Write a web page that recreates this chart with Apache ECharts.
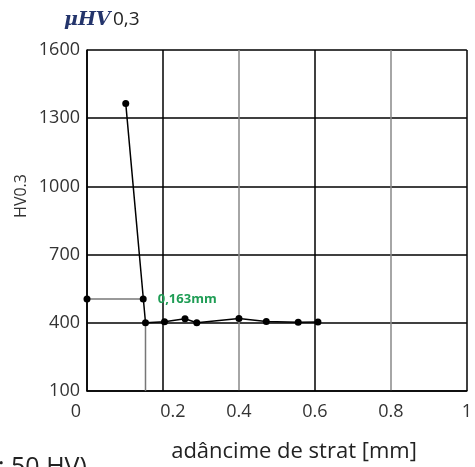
<!DOCTYPE html>
<html>
<head>
<meta charset="utf-8">
<script src="https://cdn.jsdelivr.net/npm/echarts@6/dist/echarts.min.js"></script>
<style>
  html, body { margin: 0; padding: 0; background: #fff; }
  #chart { width: 475px; height: 467px; }
</style>
</head>
<body>
<div id="chart"></div>
<script>
// adâncime [mm] / HV0.3 - profil de duritate
const depthMm = [0.102, 0.154, 0.204, 0.258, 0.289, 0.40, 0.472, 0.556, 0.608];
const hardness = [1365, 400, 405, 418, 400, 419, 406, 402, 404];

// linii ajutatoare (limita 505 HV -> adancime 0,163 mm)
const limitLineX = [0, 0.148];
const limitLineY = [505, 505];
const depthLineX = [0.154, 0.154];
const depthLineY = [400, 100];
const depthLabel = "0,163mm";

const yTicks = { min: 100, max: 1600, step: 300 };
const xTicks = { min: 0, max: 1, step: 0.2 };

const pair = (xs, ys) => xs.map((x, i) => [x, ys[i]]);

const font = "'Open Sans', 'Noto Sans', sans-serif";

let myChart = echarts.init(document.getElementById("chart"));
let option = {
  animation: false,
  grid: { left: 87, right: 5, top: 50, bottom: 76 },
  xAxis: {
    type: "value",
    min: xTicks.min,
    max: xTicks.max,
    interval: xTicks.step,
    axisLine: { show: true, lineStyle: { color: "#000", width: 1.5 } },
    axisTick: { show: false },
    axisLabel: {
      color: "#333",
      fontSize: 18,
      fontFamily: font,
      margin: 12,
      formatter: (v) => {
        const s = String(+v.toFixed(1));
        // in original, "0" sta putin la stanga si "0.2" putin la dreapta
        if (v === 0) return "{l|" + s + "}";
        if (Math.abs(v - 0.2) < 1e-9) return "{r|" + s + "}";
        return s;
      },
      rich: {
        l: { fontSize: 18, fontFamily: font, color: "#333", padding: [0, 22, 0, 0] },
        r: { fontSize: 18, fontFamily: font, color: "#333", padding: [0, 0, 0, 20] },
      },
    },
    splitLine: {
      show: true,
      lineStyle: {
        // 0, 0.2, 0.4, 0.6, 0.8, 1
        color: ["#000", "#000", "#888", "#000", "#888", "#000"],
        width: 1.5,
      },
    },
  },
  yAxis: {
    type: "value",
    min: yTicks.min,
    max: yTicks.max,
    interval: yTicks.step,
    axisLine: { show: true, lineStyle: { color: "#000", width: 1.5 } },
    axisTick: { show: false },
    axisLabel: {
      color: "#333",
      fontSize: 18,
      fontFamily: font,
      margin: 7,
      formatter: (v) => String(v),
    },
    splitLine: { show: true, lineStyle: { color: "#000", width: 1.5 } },
  },
  graphic: [
    {
      type: "text",
      x: 64,
      y: 20,
      style: {
        text: "μHV",
        font: "italic bold 19px 'DejaVu Serif', 'Liberation Serif', serif",
        fill: "#23346b",
        verticalAlign: "middle",
      },
    },
    {
      type: "text",
      x: 113,
      y: 20,
      style: {
        text: "0,3",
        font: "19px " + font,
        fill: "#222",
        verticalAlign: "middle",
      },
    },
    {
      type: "text",
      x: 21,
      y: 196,
      rotation: Math.PI / 2,
      style: {
        text: "HV0.3",
        font: "16px " + font,
        fill: "#333",
        align: "center",
        verticalAlign: "middle",
      },
    },
    {
      type: "text",
      x: 294,
      y: 452,
      style: {
        text: "adâncime de strat [mm]",
        font: "22px " + font,
        fill: "#222",
        align: "center",
        verticalAlign: "middle",
      },
    },
    {
      type: "text",
      x: -2,
      y: 468,
      style: {
        text: "; 50 HV)",
        font: "25px " + font,
        fill: "#222",
        verticalAlign: "middle",
      },
    },
  ],
  series: [
    {
      type: "line",
      data: pair(depthLineX, depthLineY),
      symbol: "none",
      lineStyle: { color: "#777", width: 1.5 },
      z: 2,
    },
    {
      type: "line",
      data: pair(limitLineX, limitLineY),
      symbol: "circle",
      symbolSize: 7,
      itemStyle: { color: "#000" },
      lineStyle: { color: "#777", width: 1.5 },
      label: {
        show: true,
        position: "right",
        distance: 11,
        formatter: (p) => (p.dataIndex === 1 ? depthLabel : ""),
        color: "#1f9d55",
        fontSize: 13,
        fontWeight: "bold",
        fontFamily: font,
      },
      z: 3,
    },
    {
      type: "line",
      data: pair(depthMm, hardness),
      symbol: "circle",
      symbolSize: 7,
      itemStyle: { color: "#000" },
      lineStyle: { color: "#000", width: 1.5 },
      z: 4,
    },
  ],
};
myChart.setOption(option);
</script>
</body>
</html>
